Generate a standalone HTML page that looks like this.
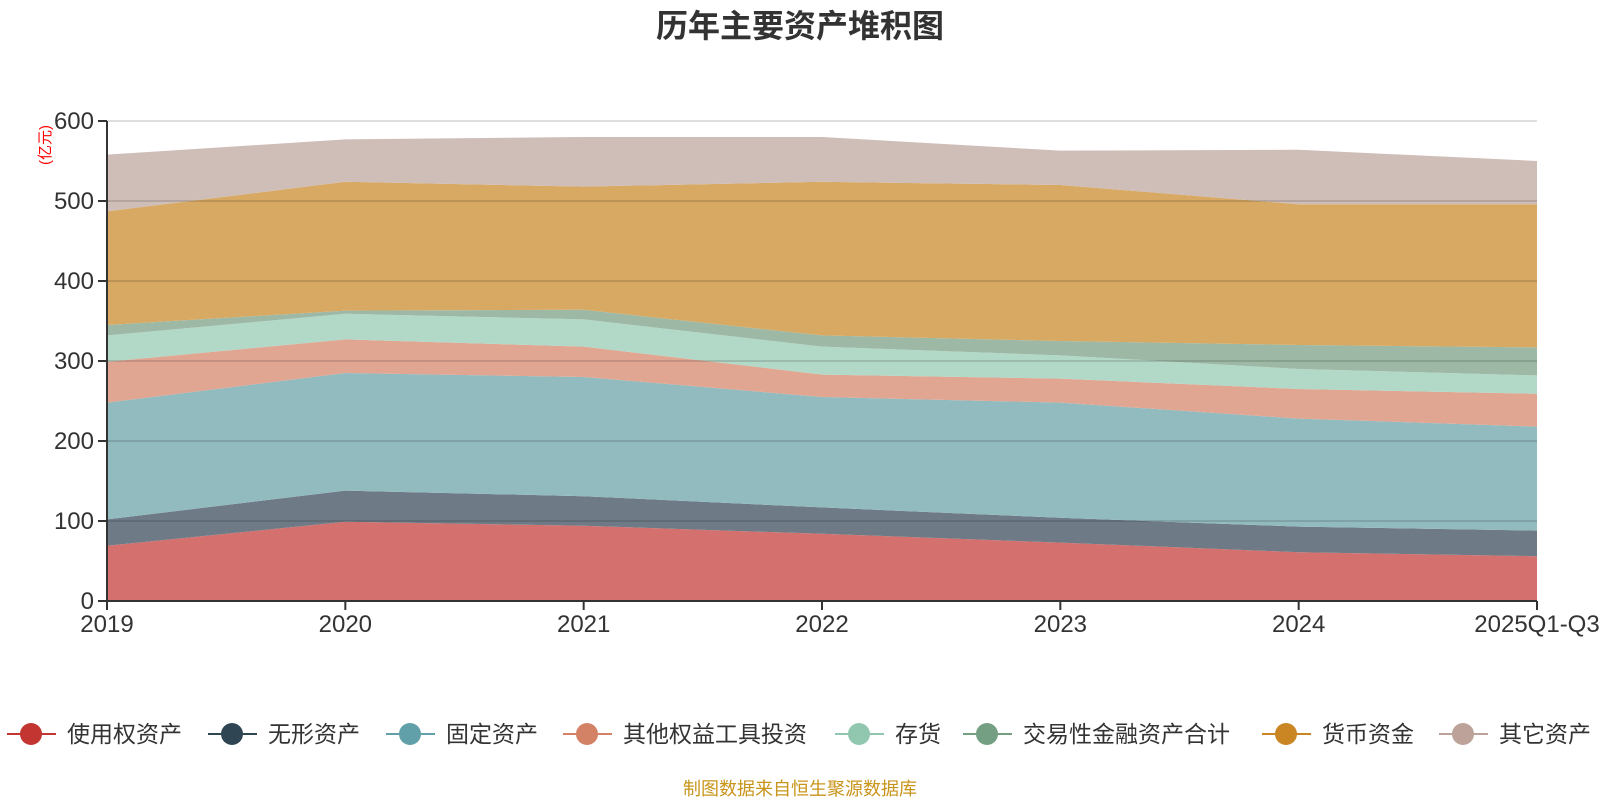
<!DOCTYPE html>
<html><head><meta charset="utf-8"><style>
body{margin:0;background:#fff;width:1600px;height:800px;overflow:hidden;font-family:"Liberation Sans","Noto Sans CJK SC",sans-serif}
svg text{font-family:"Liberation Sans","Noto Sans CJK SC",sans-serif}
</style></head><body>
<svg id="chart" width="1600" height="800" xmlns="http://www.w3.org/2000/svg">
<text x="800" y="37" text-anchor="middle" font-size="32" font-weight="bold" fill="#333">历年主要资产堆积图</text>
<text transform="translate(50,145) rotate(-90)" text-anchor="middle" font-size="15" fill="#f00">(亿元)</text>
<g id="areas"></g><g id="grid"></g><g id="axes"></g><g id="legend"></g>
<text x="800" y="795" text-anchor="middle" font-size="18" fill="#c8941a">制图数据来自恒生聚源数据库</text>
</svg>
<script>
const categories=["2019","2020","2021","2022","2023","2024","2025Q1-Q3"];
const seriesNames=["使用权资产","无形资产","固定资产","其他权益工具投资","存货","交易性金融资产合计","货币资金","其它资产"];
const s1=[69,99,94,84,73,61,56];
const s2=[33,39,37,33,31,32,32];
const s3=[146,147,149,138,144,135,130];
const s4=[51,42,38,28,30,37,41];
const s5=[33,32,34,35,29,25,23];
const s6=[13,4,12,14,18,30,35];
const s7=[142,161,154,192,195,176,179];
const s8=[71,53,62,56,43,68,54];
const yTicks=[0,100,200,300,400,500,600];
const series=[s1,s2,s3,s4,s5,s6,s7,s8];
const colors=["#c23531","#2f4554","#61a0a8","#d48265","#91c7ae","#749f83","#ca8622","#bda29a"];
const fills=["#d4706d","#6e7b87","#92bbc0","#e0a692","#b2d8c7","#9db9a5","#d8a962","#cfbdb8"];
const X0=107,X1=1537,Y0=601,Y1=121,YMAX=600;
const NS="http://www.w3.org/2000/svg";
const xs=i=>X0+(X1-X0)*i/(categories.length-1);
const ys=v=>Y0-(Y0-Y1)*v/YMAX;
function mk(t,a,p){const e=document.createElementNS(NS,t);for(const k in a)e.setAttribute(k,a[k]);p.appendChild(e);return e;}
const areas=document.getElementById('areas');
let base=categories.map(()=>0);
series.forEach((s,k)=>{
  const top=s.map((v,i)=>base[i]+v);
  let d="M"+top.map((v,i)=>xs(i)+","+ys(v)).join("L");
  for(let i=categories.length-1;i>=0;i--)d+="L"+xs(i)+","+ys(base[i]);
  d+="Z";
  const p=mk('path',{d:d,fill:fills[k],stroke:'none'},areas);
  
  
  base=top;
});
const grid=document.getElementById('grid'),axes=document.getElementById('axes');
yTicks.forEach(t=>{
  if(t>0){const l=mk('line',{x1:X0,x2:X1,y1:ys(t),y2:ys(t),stroke:'rgba(0,0,0,0.13)','stroke-width':2},grid);
  
  }
  mk('line',{x1:X0-9,x2:X0,y1:ys(t),y2:ys(t),stroke:'#333','stroke-width':2},axes);
  const tx=mk('text',{x:X0-13,y:ys(t)+8,'text-anchor':'end','font-size':24,fill:'#333'},axes);
  tx.textContent=t;
  
  
});
mk('line',{x1:X0,x2:X0,y1:Y1,y2:Y0,stroke:'#333','stroke-width':2},axes);
mk('line',{x1:X0,x2:X1,y1:Y0,y2:Y0,stroke:'#333','stroke-width':2},axes);
categories.forEach((c,i)=>{
  mk('line',{x1:xs(i),x2:xs(i),y1:Y0,y2:Y0+9,stroke:'#333','stroke-width':2},axes);
  const tx=mk('text',{x:xs(i),y:Y0+31,'text-anchor':'middle','font-size':24,fill:'#333'},axes);
  tx.textContent=c;
  
  
});
const lg=document.getElementById('legend');
const lx=[31,232,410,587,859,987,1286,1463];
seriesNames.forEach((n,k)=>{
  const g=mk('g',{},lg);
  
  
  mk('line',{x1:lx[k]-24,x2:lx[k]+25,y1:734,y2:734,stroke:colors[k],'stroke-width':2},g);
  mk('circle',{cx:lx[k],cy:734,r:11,fill:colors[k]},g);
  const t=mk('text',{x:lx[k]+36,y:742,'font-size':23,fill:'#333'},g);
  t.textContent=n;
});
</script>
</body></html>
